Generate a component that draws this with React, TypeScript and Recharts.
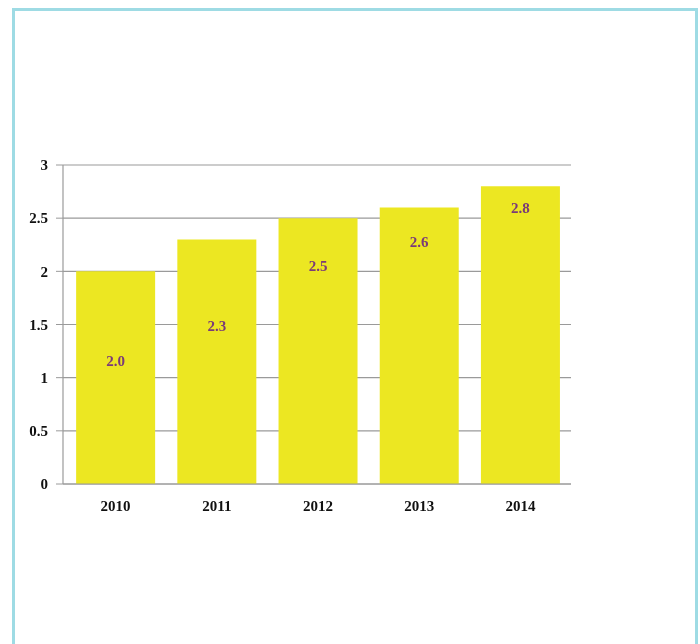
import { BarChart, Bar, XAxis, YAxis, CartesianGrid, LabelList } from "recharts"

const years = ["2010", "2011", "2012", "2013", "2014"]
const values = [2.0, 2.3, 2.5, 2.6, 2.8]
// where each value label sits, in data units
const labelAt = [1.16, 1.49, 2.05, 2.28, 2.6]
const yTicks = [0, 0.5, 1, 1.5, 2, 2.5, 3]

const data = years.map((year, i) => ({ year, value: values[i], labelAt: labelAt[i] }))

const font = "'Liberation Serif', 'DejaVu Serif', serif"

function ValueLabel(props: any) {
  const { x, y, width, height, index, value } = props
  const frac = data[index].labelAt / data[index].value
  const cy = y + height * (1 - frac)
  return (
    <text
      x={x + width / 2}
      y={cy}
      textAnchor="middle"
      dominantBaseline="central"
      fill="#7a3b78"
      fontFamily={font}
      fontSize={15}
      fontWeight={600}
    >
      {Number(value).toFixed(1)}
    </text>
  )
}

export default function App() {
  return (
    <div
      style={{
        position: "fixed",
        left: 12,
        top: 8,
        width: 686,
        height: 700,
        border: "3px solid #9edbe4",
        boxSizing: "border-box",
      }}
    >
      <BarChart
        width={677}
        height={600}
        data={data}
        margin={{ top: 154, right: 121, bottom: 97, left: 8 }}
        barCategoryGap="11%"
      >
        <CartesianGrid vertical={false} stroke="#9a9a9a" strokeWidth={1.2} />
        <XAxis
          dataKey="year"
          axisLine={{ stroke: "#9a9a9a" }}
          tickLine={false}
          tickSize={0}
          tickMargin={16}
          height={30}
          padding={{ left: 2, right: 0 }}
          tick={{ fill: "#111", fontFamily: font, fontSize: 15, fontWeight: 600 }}
        />
        <YAxis
          domain={[0, 3]}
          ticks={yTicks}
          width={40}
          axisLine={{ stroke: "#9a9a9a", strokeWidth: 1.2 }}
          tickLine={{ stroke: "#9a9a9a" }}
          tickSize={7}
          tickMargin={8}
          tick={{ fill: "#111", fontFamily: font, fontSize: 15, fontWeight: 600 }}
        />
        <Bar dataKey="value" fill="#ece722" isAnimationActive={false}>
          <LabelList dataKey="value" content={ValueLabel} />
        </Bar>
      </BarChart>
    </div>
  )
}
